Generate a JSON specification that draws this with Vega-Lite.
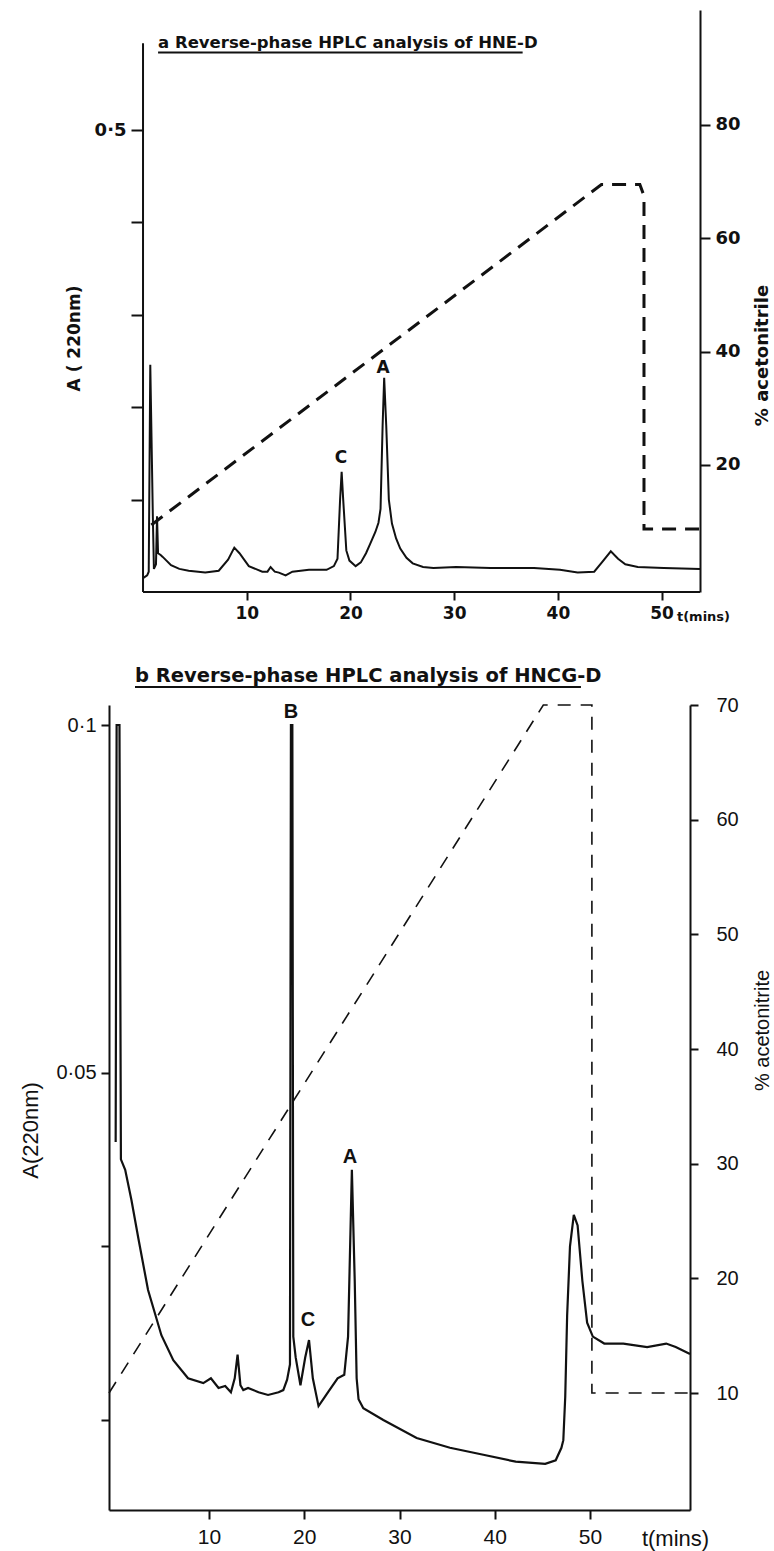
{
  "$schema": "https://vega.github.io/schema/vega-lite/v6.json",
  "background": "white",
  "padding": {"left": 19, "top": 10, "right": 5, "bottom": 5},
  "config": {
    "view": {"stroke": null},
    "axis": {"grid": false, "domainColor": "#111", "tickColor": "#111", "labelColor": "#111", "titleColor": "#111", "domainWidth": 2, "tickWidth": 2},
    "axisX": {"labelFontSize": 21, "labelFont": "Liberation Sans"}
  },
  "datasets": {
    "a_abs": [
      {"t": 0, "A": 0.015}, {"t": 0.4, "A": 0.018}, {"t": 0.55, "A": 0.022}, {"t": 0.7, "A": 0.246},
      {"t": 0.95, "A": 0.08}, {"t": 1.05, "A": 0.025}, {"t": 1.25, "A": 0.03}, {"t": 1.35, "A": 0.082},
      {"t": 1.45, "A": 0.042}, {"t": 1.7, "A": 0.04}, {"t": 1.9, "A": 0.038}, {"t": 2.7, "A": 0.029},
      {"t": 3.5, "A": 0.025}, {"t": 4.4, "A": 0.023}, {"t": 6.0, "A": 0.021}, {"t": 7.3, "A": 0.023},
      {"t": 8.2, "A": 0.035}, {"t": 8.8, "A": 0.048}, {"t": 9.3, "A": 0.042}, {"t": 10.2, "A": 0.028},
      {"t": 11.5, "A": 0.022}, {"t": 12.0, "A": 0.022}, {"t": 12.3, "A": 0.027}, {"t": 12.7, "A": 0.022},
      {"t": 13.1, "A": 0.021}, {"t": 13.75, "A": 0.018}, {"t": 14.4, "A": 0.022}, {"t": 16.0, "A": 0.024},
      {"t": 17.7, "A": 0.024}, {"t": 18.4, "A": 0.028}, {"t": 18.75, "A": 0.036}, {"t": 19.0, "A": 0.1},
      {"t": 19.15, "A": 0.13}, {"t": 19.3, "A": 0.1}, {"t": 19.6, "A": 0.045}, {"t": 19.9, "A": 0.034},
      {"t": 20.5, "A": 0.028}, {"t": 21.0, "A": 0.032}, {"t": 21.5, "A": 0.042}, {"t": 21.9, "A": 0.052},
      {"t": 22.4, "A": 0.065}, {"t": 22.7, "A": 0.075}, {"t": 22.9, "A": 0.09}, {"t": 23.1, "A": 0.18},
      {"t": 23.25, "A": 0.232}, {"t": 23.45, "A": 0.18}, {"t": 23.7, "A": 0.1}, {"t": 24.0, "A": 0.074},
      {"t": 24.4, "A": 0.058}, {"t": 24.8, "A": 0.047}, {"t": 25.4, "A": 0.037}, {"t": 26.0, "A": 0.031},
      {"t": 27.0, "A": 0.027}, {"t": 28.0, "A": 0.026}, {"t": 30.2, "A": 0.027}, {"t": 33.5, "A": 0.026},
      {"t": 37.7, "A": 0.026}, {"t": 40.2, "A": 0.024}, {"t": 41.9, "A": 0.021}, {"t": 43.5, "A": 0.022},
      {"t": 44.3, "A": 0.033}, {"t": 45.1, "A": 0.044}, {"t": 45.8, "A": 0.036}, {"t": 46.5, "A": 0.03},
      {"t": 47.7, "A": 0.027}, {"t": 50.2, "A": 0.026}, {"t": 53.7, "A": 0.025}
    ],
    "a_grad": [
      {"t": 0.8, "pct": 9.4}, {"t": 44.2, "pct": 69.5}, {"t": 47.9, "pct": 69.5}, {"t": 48.3, "pct": 67.5},
      {"t": 48.3, "pct": 8.7}, {"t": 53.7, "pct": 8.7}
    ],
    "a_labels": [
      {"t": 19.09, "v": 0.145, "label": "C"}, {"t": 23.14, "v": 0.2424, "label": "A"}
    ],
    "b_abs": [
      {"t": 0.2, "A": 0.04}, {"t": 0.3, "A": 0.1}, {"t": 0.6, "A": 0.1}, {"t": 0.75, "A": 0.0375},
      {"t": 1.2, "A": 0.036}, {"t": 1.85, "A": 0.0317}, {"t": 2.6, "A": 0.026}, {"t": 3.6, "A": 0.0187},
      {"t": 5.0, "A": 0.0122}, {"t": 6.25, "A": 0.0086}, {"t": 7.8, "A": 0.006}, {"t": 9.4, "A": 0.0053},
      {"t": 10.2, "A": 0.006}, {"t": 11.0, "A": 0.0046}, {"t": 11.7, "A": 0.0049}, {"t": 12.3, "A": 0.004},
      {"t": 12.7, "A": 0.006}, {"t": 13.0, "A": 0.0094}, {"t": 13.3, "A": 0.005}, {"t": 13.6, "A": 0.0043},
      {"t": 14.1, "A": 0.0046}, {"t": 15.2, "A": 0.004}, {"t": 16.2, "A": 0.0036}, {"t": 17.3, "A": 0.004},
      {"t": 17.8, "A": 0.0043}, {"t": 18.2, "A": 0.0058}, {"t": 18.5, "A": 0.008}, {"t": 18.6, "A": 0.1},
      {"t": 18.75, "A": 0.1}, {"t": 18.85, "A": 0.012}, {"t": 19.1, "A": 0.009}, {"t": 19.6, "A": 0.005},
      {"t": 20.1, "A": 0.009}, {"t": 20.5, "A": 0.0115}, {"t": 20.9, "A": 0.006}, {"t": 21.5, "A": 0.002},
      {"t": 22.0, "A": 0.003}, {"t": 22.5, "A": 0.004}, {"t": 23.5, "A": 0.006}, {"t": 24.2, "A": 0.0065},
      {"t": 24.6, "A": 0.012}, {"t": 25.0, "A": 0.036}, {"t": 25.3, "A": 0.02}, {"t": 25.5, "A": 0.006},
      {"t": 25.7, "A": 0.003}, {"t": 26.2, "A": 0.0017}, {"t": 28.3, "A": 0.0}, {"t": 31.8, "A": -0.0026},
      {"t": 35.3, "A": -0.004}, {"t": 38.8, "A": -0.005}, {"t": 42.2, "A": -0.006}, {"t": 45.3, "A": -0.0063},
      {"t": 46.4, "A": -0.0058}, {"t": 47.0, "A": -0.004}, {"t": 47.2, "A": -0.0029}, {"t": 47.4, "A": 0.0033},
      {"t": 47.6, "A": 0.015}, {"t": 47.9, "A": 0.025}, {"t": 48.3, "A": 0.0295}, {"t": 48.7, "A": 0.028},
      {"t": 49.2, "A": 0.02}, {"t": 49.7, "A": 0.014}, {"t": 50.3, "A": 0.012}, {"t": 51.5, "A": 0.011},
      {"t": 53.5, "A": 0.011}, {"t": 56.0, "A": 0.0105}, {"t": 58.0, "A": 0.011}, {"t": 59.0, "A": 0.0105},
      {"t": 60.5, "A": 0.0095}
    ],
    "b_grad": [
      {"t": -0.5, "pct": 10}, {"t": 45.1, "pct": 70}, {"t": 50.2, "pct": 70}, {"t": 50.2, "pct": 10}, {"t": 60.5, "pct": 10}
    ],
    "b_labels": [
      {"t": 18.6, "v": 0.1019, "label": "B"}, {"t": 20.4, "v": 0.0144, "label": "C"}, {"t": 24.8, "v": 0.0378, "label": "A"}
    ]
  },
  "vconcat": [
    {
      "width": 591,
      "height": 582,
      "layer": [
        {
          "layer": [
            {
              "data": {"name": "a_abs"},
              "mark": {"type": "line", "color": "#111", "strokeWidth": 2},
              "encoding": {
                "x": {"field": "t", "type": "quantitative", "scale": {"domain": [-3.28, 53.7], "nice": false, "zero": false},
                  "axis": {"values": [10, 20, 30, 40, 50], "domain": false, "tickSize": 8, "labelPadding": 5,
                    "labelFont": "DejaVu Sans", "labelFontWeight": "bold", "labelFontSize": 17,
                    "title": "t(mins)", "titleFont": "DejaVu Sans", "titleFontWeight": "bold", "titleFontSize": 13,
                    "titleX": 594, "titleY": 24, "titleAlign": "center", "titleBaseline": "middle"}},
                "y": {"field": "A", "type": "quantitative", "scale": {"domain": [0, 0.63], "nice": false, "zero": false},
                  "axis": {"orient": "left", "offset": -34, "domain": false, "values": [0.1, 0.2, 0.3, 0.4, 0.5],
                    "labelExpr": "datum.value == 0.5 ? '0·5' : ''", "tickSize": 12, "labelPadding": 5,
                    "labelFont": "DejaVu Sans", "labelFontWeight": "bold", "labelFontSize": 18,
                    "title": "A ( 220nm)", "titleFont": "DejaVu Sans", "titleFontWeight": "bold", "titleFontSize": 17,
                    "titlePadding": 11, "titleY": 328}}
              }
            },
            {
              "data": {"values": [{}]},
              "mark": {"type": "rule", "color": "#111", "strokeWidth": 2},
              "encoding": {
                "x": {"datum": 0, "type": "quantitative", "scale": {"domain": [-3.28, 53.7], "nice": false, "zero": false}, "axis": null},
                "y": {"datum": 0, "type": "quantitative", "scale": {"domain": [0, 0.63], "nice": false, "zero": false}},
                "y2": {"datum": 0.594}
              }
            },
            {
              "data": {"values": [{}]},
              "mark": {"type": "rule", "color": "#111", "strokeWidth": 2},
              "encoding": {
                "x": {"datum": 0, "type": "quantitative", "scale": {"domain": [-3.28, 53.7], "nice": false, "zero": false}, "axis": null},
                "x2": {"datum": 53.7},
                "y": {"datum": 0, "type": "quantitative", "scale": {"domain": [0, 0.63], "nice": false, "zero": false}}
              }
            },
            {
              "data": {"name": "a_labels"},
              "mark": {"type": "text", "font": "DejaVu Sans", "fontWeight": "bold", "fontSize": 17, "baseline": "middle", "color": "#111"},
              "encoding": {
                "x": {"field": "t", "type": "quantitative", "scale": {"domain": [-3.28, 53.7], "nice": false, "zero": false}, "axis": null},
                "y": {"field": "v", "type": "quantitative", "scale": {"domain": [0, 0.63], "nice": false, "zero": false}},
                "text": {"field": "label"}
              }
            },
            {
              "data": {"values": [{}]},
              "mark": {"type": "text", "text": "a   Reverse-phase HPLC analysis of HNE-D", "align": "left", "baseline": "alphabetic",
                "font": "DejaVu Sans", "fontWeight": "bold", "fontSize": 16.5, "color": "#111"},
              "encoding": {
                "x": {"datum": 1.45, "type": "quantitative", "scale": {"domain": [-3.28, 53.7], "nice": false, "zero": false}, "axis": null},
                "y": {"datum": 0.5887, "type": "quantitative", "scale": {"domain": [0, 0.63], "nice": false, "zero": false}}
              }
            },
            {
              "data": {"values": [{}]},
              "mark": {"type": "rule", "color": "#111", "strokeWidth": 2},
              "encoding": {
                "x": {"datum": 1.45, "type": "quantitative", "scale": {"domain": [-3.28, 53.7], "nice": false, "zero": false}, "axis": null},
                "x2": {"datum": 36.6},
                "y": {"datum": 0.584, "type": "quantitative", "scale": {"domain": [0, 0.63], "nice": false, "zero": false}}
              }
            }
          ],
          "resolve": {"axis": {"x": "independent"}}
        },
        {
          "data": {"name": "a_grad"},
          "mark": {"type": "line", "color": "#111", "strokeWidth": 3, "strokeDash": [14, 9]},
          "encoding": {
            "x": {"field": "t", "type": "quantitative", "scale": {"domain": [-3.28, 53.7], "nice": false, "zero": false}, "axis": null},
            "y": {"field": "pct", "type": "quantitative", "scale": {"domain": [-2.44, 100.3], "nice": false, "zero": false},
              "axis": {"orient": "right", "values": [20, 40, 60, 80], "tickSize": 10, "labelPadding": 5,
                "labelFont": "DejaVu Sans", "labelFontWeight": "bold", "labelFontSize": 18,
                "title": "% acetonitrile", "titleAngle": 270, "titleFont": "DejaVu Sans", "titleFontWeight": "bold", "titleFontSize": 18,
                "titlePadding": 31, "titleY": 345}}
          }
        }
      ],
      "resolve": {"scale": {"y": "independent"}, "axis": {"x": "independent"}}
    },
    {
      "width": 581,
      "height": 805,
      "layer": [
        {
          "layer": [
            {
              "data": {"name": "b_abs"},
              "mark": {"type": "line", "color": "#111", "strokeWidth": 2.2},
              "encoding": {
                "x": {"field": "t", "type": "quantitative", "scale": {"domain": [-0.5, 60.5], "nice": false, "zero": false},
                  "axis": {"values": [10, 20, 30, 40, 50], "tickSize": 9, "labelPadding": 7,
                    "labelFont": "Liberation Sans", "labelFontSize": 21,
                    "title": "t(mins)", "titleFont": "Liberation Sans", "titleFontWeight": "normal", "titleFontSize": 22,
                    "titleX": 566, "titleY": 28, "titleAlign": "center", "titleBaseline": "middle"}},
                "y": {"field": "A", "type": "quantitative", "scale": {"domain": [-0.01295, 0.10288], "nice": false, "zero": false},
                  "axis": {"orient": "left", "values": [0, 0.025, 0.05, 0.1],
                    "labelExpr": "datum.value == 0.1 ? '0·1' : (datum.value == 0.05 ? '0·05' : '')", "tickSize": 8, "labelPadding": 5,
                    "labelFont": "Liberation Sans", "labelFontSize": 20,
                    "title": "A(220nm)", "titleFont": "Liberation Sans", "titleFontWeight": "normal", "titleFontSize": 22,
                    "titlePadding": 13, "titleY": 425}}
              }
            },
            {
              "data": {"name": "b_labels"},
              "mark": {"type": "text", "font": "Liberation Sans", "fontWeight": "bold", "fontSize": 20, "baseline": "middle", "color": "#111"},
              "encoding": {
                "x": {"field": "t", "type": "quantitative", "scale": {"domain": [-0.5, 60.5], "nice": false, "zero": false}, "axis": null},
                "y": {"field": "v", "type": "quantitative", "scale": {"domain": [-0.01295, 0.10288], "nice": false, "zero": false}},
                "text": {"field": "label"}
              }
            },
            {
              "data": {"values": [{}]},
              "mark": {"type": "text", "text": "b   Reverse-phase HPLC analysis of HNCG-D", "align": "left", "baseline": "alphabetic",
                "font": "DejaVu Sans", "fontWeight": "bold", "fontSize": 19.5, "color": "#111"},
              "encoding": {
                "x": {"datum": 2.23, "type": "quantitative", "scale": {"domain": [-0.5, 60.5], "nice": false, "zero": false}, "axis": null},
                "y": {"datum": 0.1062, "type": "quantitative", "scale": {"domain": [-0.01295, 0.10288], "nice": false, "zero": false}}
              }
            },
            {
              "data": {"values": [{}]},
              "mark": {"type": "rule", "color": "#111", "strokeWidth": 2},
              "encoding": {
                "x": {"datum": 2.23, "type": "quantitative", "scale": {"domain": [-0.5, 60.5], "nice": false, "zero": false}, "axis": null},
                "x2": {"datum": 49.05},
                "y": {"datum": 0.10547, "type": "quantitative", "scale": {"domain": [-0.01295, 0.10288], "nice": false, "zero": false}}
              }
            }
          ],
          "resolve": {"axis": {"x": "independent"}}
        },
        {
          "data": {"name": "b_grad"},
          "mark": {"type": "line", "color": "#111", "strokeWidth": 1.6, "strokeDash": [13, 10]},
          "encoding": {
            "x": {"field": "t", "type": "quantitative", "scale": {"domain": [-0.5, 60.5], "nice": false, "zero": false}, "axis": null},
            "y": {"field": "pct", "type": "quantitative", "scale": {"domain": [-0.2, 70], "nice": false, "zero": false},
              "axis": {"orient": "right", "values": [10, 20, 30, 40, 50, 60, 70], "tickSize": 8, "labelPadding": 18,
                "labelFont": "Liberation Sans", "labelFontSize": 20,
                "title": "% acetonitrite", "titleAngle": 270, "titleFont": "Liberation Sans", "titleFontWeight": "normal", "titleFontSize": 20,
                "titlePadding": 34, "titleY": 325}}
          }
        }
      ],
      "resolve": {"scale": {"y": "independent"}, "axis": {"x": "independent"}}
    }
  ],
  "spacing": 113,
  "bounds": "flush"
}
